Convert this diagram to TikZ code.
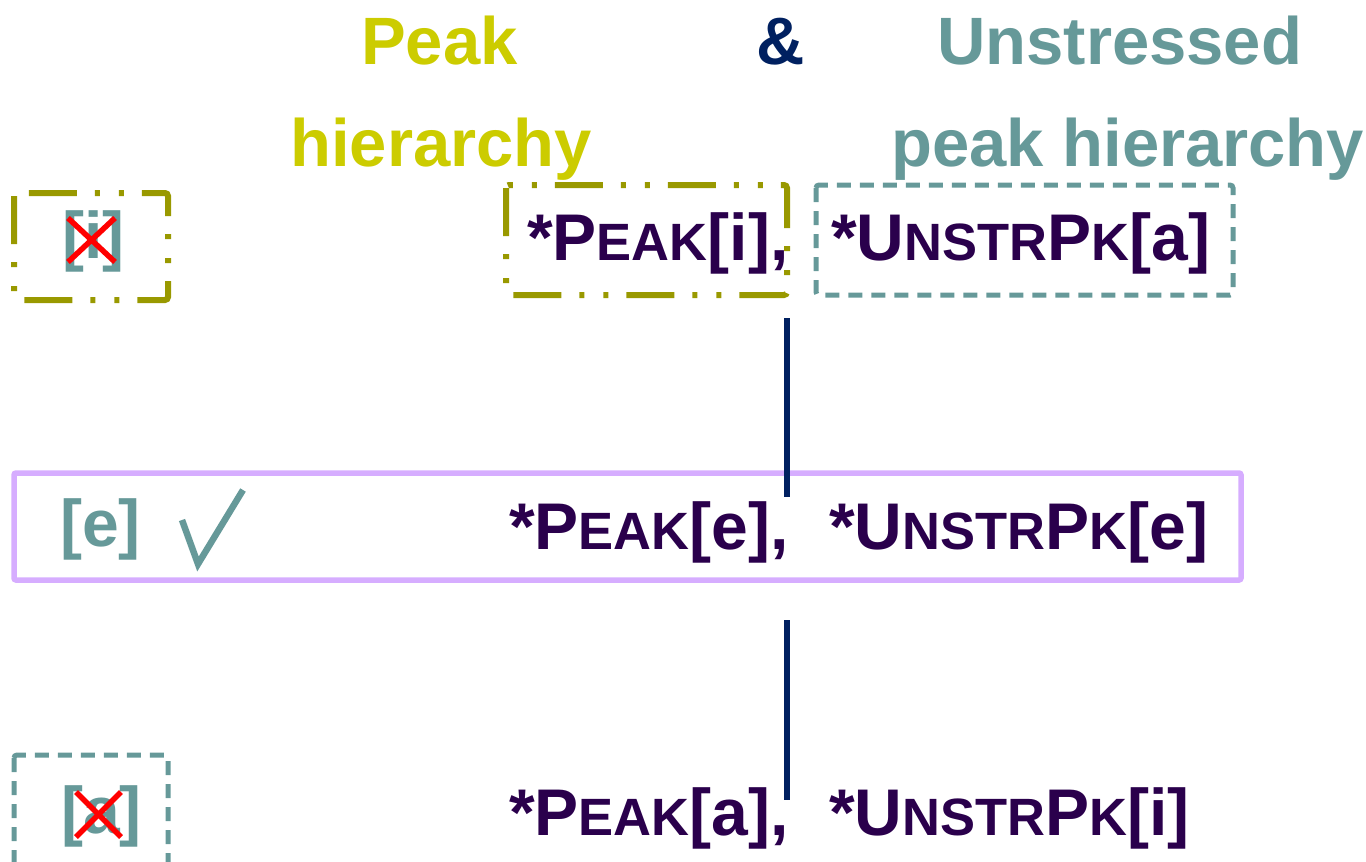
\documentclass[tikz,border=0pt]{standalone}
\usepackage{fontspec}
\setmainfont{Liberation Sans}
\definecolor{ttlyellow}{HTML}{CCCC00}
\definecolor{olivebox}{HTML}{999900}
\definecolor{tealc}{HTML}{669999}
\definecolor{navyc}{HTML}{002060}
\definecolor{purpc}{HTML}{2A004C}
\definecolor{lavc}{HTML}{D6ADFF}
\newcommand{\smc}[1]{{\fontsize{52.5}{52.5}\selectfont #1}}
\begin{document}
\begin{tikzpicture}[x=1pt,y=-1pt,
  txt/.style={inner sep=0pt, anchor=base west, font=\fontsize{66}{66}\selectfont\bfseries},
  ttl/.style={txt, font=\fontsize{67}{67}\selectfont\bfseries},
  con/.style={txt, text=purpc},
  olivedd/.style={draw=olivebox, line width=6pt, rounded corners=3pt,
     dash pattern=on 48pt off 18pt on 5pt off 19pt on 5pt off 18pt},
  tealdash/.style={draw=tealc, line width=5pt, rounded corners=3pt,
     dash pattern=on 14pt off 9pt},
  lavbox/.style={draw=lavc, line width=5.5pt, rounded corners=2pt},
  vline/.style={draw=navyc, line width=6.5pt},
  xmark/.style={draw=red, line width=5.5pt},
  okmark/.style={draw=tealc, line width=6.5pt}]
\useasboundingbox (0,0) rectangle (1366,862);
% titles
\node[ttl, text=ttlyellow] (t1) at (361,64) {Peak};
\node[ttl, text=ttlyellow] (t2) at (290,166) {hierarchy};
\node[ttl, text=navyc] (amp) at (756,64) {\&};
\node[ttl, text=tealc] (t3) at (937,64) {Unstressed};
\node[ttl, text=tealc] (t4) at (891,166) {peak hierarchy};
% boxes
\draw[olivedd] (14,193) rectangle (168,300);
\draw[olivedd] (506,185) rectangle (787,295);
\draw[tealdash] (816,185) rectangle (1233,295);
\draw[tealdash] (14,755) rectangle (168,875);
\draw[lavbox] (14,473) rectangle (1241,580);
% vertical lines
\coordinate (v1a) at (787,318); \coordinate (v1b) at (787,497);
\coordinate (v2a) at (787,620); \coordinate (v2b) at (787,800);
\draw[vline] (v1a) -- (v1b);
\draw[vline] (v2a) -- (v2b);
% left candidates
\node[txt, text=tealc] (ci) at (62,258) {[i]};
\node[txt, text=tealc] (ce) at (60,546) {[e]};
\node[txt, text=tealc] (ca) at (61,833) {[a]};
\coordinate (x1a) at (68,218); \coordinate (x1b) at (115,262);
\coordinate (x1c) at (68,262); \coordinate (x1d) at (115,218);
\draw[xmark] (x1a) -- (x1b); \draw[xmark] (x1c) -- (x1d);
\coordinate (x2a) at (76,792); \coordinate (x2b) at (121,837);
\coordinate (x2c) at (76,837); \coordinate (x2d) at (121,792);
\draw[xmark] (x2a) -- (x2b); \draw[xmark] (x2c) -- (x2d);
\coordinate (k1) at (182,520); \coordinate (k2) at (198,564); \coordinate (k3) at (243,490);
\draw[okmark, line join=miter] (k1) -- (k2) -- (k3);
% constraints
\node[con] (p1) at (527,260) {*P\smc{EAK}[i],};
\node[con] (u1) at (831,260) {*U\smc{NSTR}P\smc{K}[a]};
\node[con] (p2) at (509,549) {*P\smc{EAK}[e],};
\node[con] (u2) at (829,549) {*U\smc{NSTR}P\smc{K}[e]};
\node[con] (p3) at (509,835) {*P\smc{EAK}[a],};
\node[con] (u3) at (829,835) {*U\smc{NSTR}P\smc{K}[i]};
\end{tikzpicture}
\end{document}
